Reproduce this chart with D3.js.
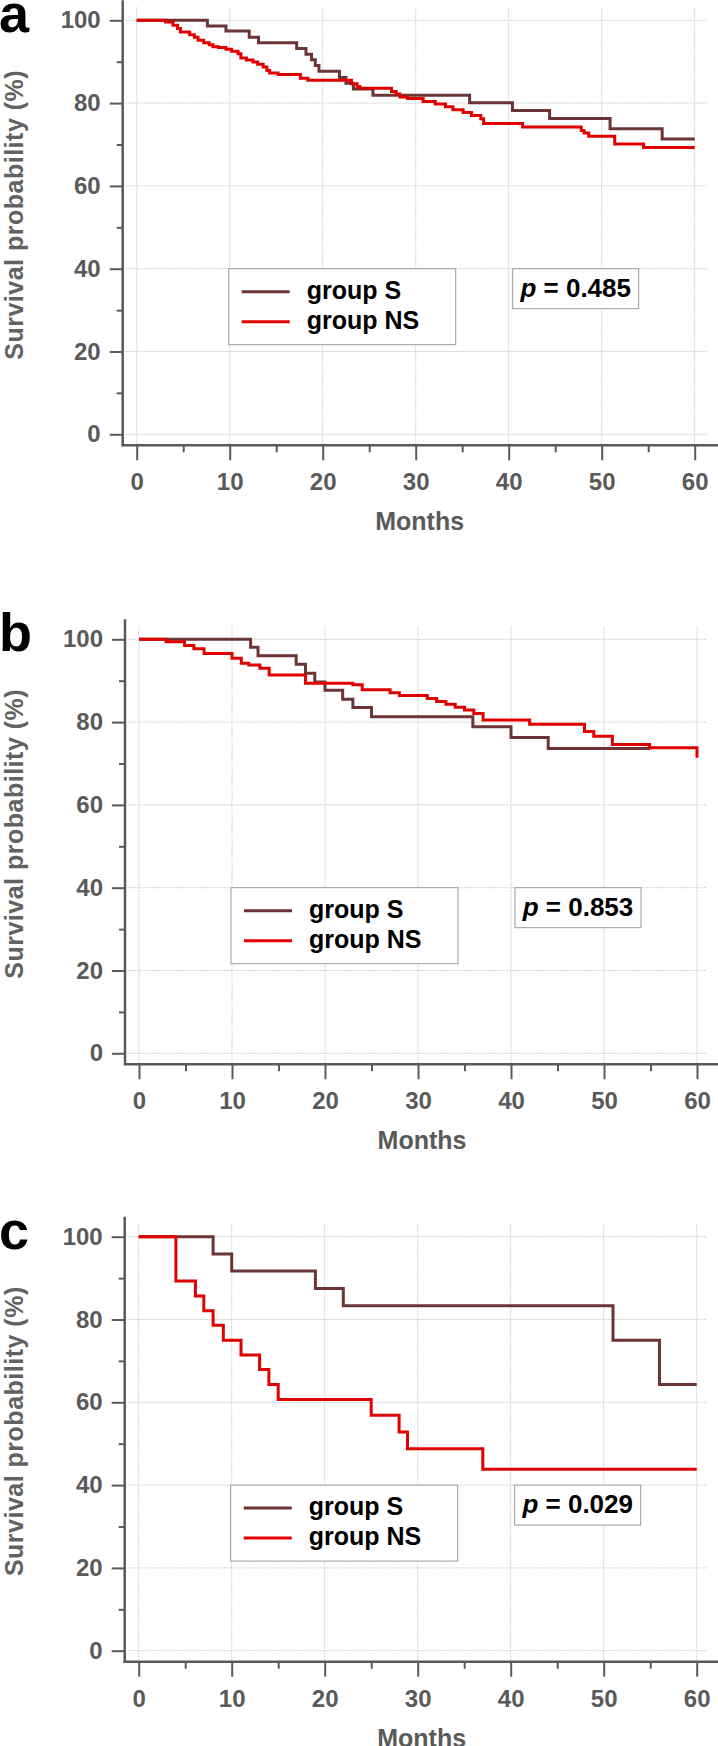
<!DOCTYPE html>
<html lang="en">
<head>
<meta charset="UTF-8">
<title>Survival curves</title>
<script src="https://d3js.org/d3.v7.min.js"></script>
<style>
  body { margin: 0; background: #fff; }
  svg { display: block; }
  text { font-family: "Liberation Sans", Arial, sans-serif; font-weight: bold; }
</style>
</head>
<body>
<script>
// axis values
const months = [0, 10, 20, 30, 40, 50, 60];
const monthsMinor = [5, 15, 25, 35, 45, 55];
const percent = [0, 20, 40, 60, 80, 100];
const percentMinor = [10, 30, 50, 70, 90];

const groupNames = ["group S", "group NS"];
const panelLetters = ["a", "b", "c"];
const pValues = ["0.485", "0.853", "0.029"];

// [month, survival %] at each step (value holds from that month on)
const aS = [[0,100],[7.6,98.6],[9.6,97.4],[12.1,95.9],[13.1,94.6],[17.2,93.2],[18.2,91.8],[18.8,90.5],[19.2,89.1],[19.6,87.7],
  [21.8,86.2],[22.5,84.8],[23.3,83.4],[25.4,81.9],[35.8,80.1],[40.4,78.2],[44.4,76.3],[50.9,73.8],[56.5,71.3],[60,71.3]];
const aNS = [[0,100],[3.1,99.6],[3.9,98.8],[4.4,98.0],[4.7,97.2],[5.7,96.5],[6.2,95.9],[6.6,95.2],[7.2,94.6],[7.8,94.1],
  [8.2,93.6],[8.8,93.4],[9.6,93.0],[10.2,92.5],[10.9,91.9],[11.2,90.9],[11.8,90.4],[12.5,89.9],[13.0,89.4],[13.6,88.7],
  [14.0,87.9],[14.3,87.3],[15.2,86.9],[17.6,86.0],[18.4,85.5],[23.1,84.7],[23.7,84.0],[24.0,83.6],[27.4,82.8],[27.9,82.2],
  [28.3,81.5],[29.1,81.1],[30.8,80.4],[32.1,79.8],[33.2,79.1],[34.0,78.4],[35.1,77.7],[36.0,77.0],[37.0,76.2],[37.3,75.1],
  [41.5,74.2],[47.8,73.4],[48.1,72.8],[48.6,72.0],[51.4,70.1],[54.5,69.3],[60,69.3]];

const bS = [[0,100],[12.0,98.1],[12.8,96.0],[16.9,94.0],[17.9,91.8],[18.9,89.7],[20.0,87.7],[21.9,85.5],[23.0,83.5],
  [25.0,81.3],[35.9,78.9],[40.0,76.3],[44.0,73.6],[55.0,73.6]];
const bNS = [[0,100],[2.9,99.4],[4.9,98.5],[5.9,97.7],[7.0,96.6],[10.0,95.4],[11.0,94.2],[11.8,93.8],[13.0,93.0],[14.0,91.4],
  [17.9,89.4],[23.0,89.0],[24.0,87.8],[27.0,87.1],[28.0,86.4],[31.0,85.7],[32.0,85.0],[33.0,84.3],[34.0,83.6],[35.0,82.9],
  [36.0,82.1],[37.0,80.5],[42.0,79.5],[47.9,77.7],[48.9,76.6],[50.9,74.6],[54.9,73.8],[60,73.8],[60,71.4]];

const cS = [[0,100],[8,95.8],[10,91.7],[19,87.5],[22,83.3],[51,75.0],[56,64.3],[60,64.3]];
const cNS = [[0,100],[4,89.3],[6.1,85.7],[7,82.1],[8,78.6],[9.1,75.0],[11,71.4],[13,67.9],[14,64.3],[15,60.7],
  [25,56.9],[28,52.8],[28.9,48.8],[37,43.8],[60,43.8]];

const seriesByPanel = [[aS, aNS], [bS, bNS], [cS, cNS]];

const colorS = "#6b3535";
const colorNS = "#e00000";
const axisColor = "#5a5a5a";

const W = 718, H = 1746;
const plotW = 558, plotH = 414;
// top of the 100% line and x of month 0 for each panel
const panelTop = [20.3, 639.3, 1236.7];
const panelLeft = [136.7, 139, 138.7];

const svg = d3.select("body").append("svg")
  .attr("width", W)
  .attr("height", H);

panelLetters.forEach(function (letter, i) {
  const top = panelTop[i], left = panelLeft[i];
  const x = d3.scaleLinear().domain([0, 60]).range([left, left + plotW]);
  const y = d3.scaleLinear().domain([0, 100]).range([top + plotH, top]);
  const axisX = left - 14;
  const axisY = top + plotH + 11;
  const g = svg.append("g");

  // grid
  g.selectAll(".hgrid").data(percent).enter().append("line")
    .attr("x1", axisX).attr("x2", 707)
    .attr("y1", d => y(d)).attr("y2", d => y(d))
    .attr("stroke", "#d2d2d2").attr("stroke-dasharray", "2,1");
  g.selectAll(".vgrid").data(months).enter().append("line")
    .attr("x1", d => x(d)).attr("x2", d => x(d))
    .attr("y1", top - 13).attr("y2", axisY)
    .attr("stroke", "#d2d2d2").attr("stroke-dasharray", "2,1");

  // y axis
  const yAxis = g.append("g").attr("transform", `translate(${axisX},0)`)
    .call(d3.axisLeft(y).tickValues(percent).tickSize(13).tickPadding(9));
  const yMinor = g.append("g").attr("transform", `translate(${axisX},0)`)
    .call(d3.axisLeft(y).tickValues(percentMinor).tickSize(6).tickFormat(""));
  // x axis
  const xAxis = g.append("g").attr("transform", `translate(0,${axisY})`)
    .call(d3.axisBottom(x).tickValues(months).tickSize(15).tickPadding(13));
  const xMinor = g.append("g").attr("transform", `translate(0,${axisY})`)
    .call(d3.axisBottom(x).tickValues(monthsMinor).tickSize(7).tickFormat(""));

  [yAxis, yMinor, xAxis, xMinor].forEach(function (a) {
    a.select(".domain").remove();
    a.selectAll(".tick line").attr("stroke", axisColor).attr("stroke-width", 2);
    a.selectAll(".tick text").attr("fill", axisColor).style("font-size", "24px");
  });

  g.append("line")
    .attr("x1", axisX).attr("x2", axisX)
    .attr("y1", top - 20).attr("y2", axisY + 1)
    .attr("stroke", axisColor).attr("stroke-width", 2.5);
  g.append("line")
    .attr("x1", axisX - 1).attr("x2", W)
    .attr("y1", axisY).attr("y2", axisY)
    .attr("stroke", axisColor).attr("stroke-width", 2.5);

  // axis titles
  g.append("text")
    .attr("transform", `translate(23,${top + 194.5}) rotate(-90)`)
    .attr("text-anchor", "middle")
    .attr("fill", "#626262")
    .style("font-size", "25px")
    .style("letter-spacing", "0.5px")
    .text("Survival probability (%)");
  g.append("text")
    .attr("x", x(30) + 4).attr("y", axisY + 85)
    .attr("text-anchor", "middle")
    .attr("fill", axisColor)
    .style("font-size", "25px")
    .text("Months");

  // panel letter
  g.append("text")
    .attr("x", -1).attr("y", top + 12)
    .attr("fill", "#000")
    .style("font-size", "54px")
    .text(letter);

  // curves
  const line = d3.line()
    .x(d => x(d[0]))
    .y(d => y(d[1]))
    .curve(d3.curveStepAfter);
  const colors = [colorS, colorNS];
  seriesByPanel[i].forEach(function (s, k) {
    g.append("path")
      .attr("d", line(s))
      .attr("fill", "none")
      .attr("stroke", colors[k])
      .attr("stroke-width", 3);
  });

  // legend
  const lx = x(10) - 1, ly = y(40);
  const leg = g.append("g").attr("transform", `translate(${lx},${ly})`);
  leg.append("rect")
    .attr("width", 227).attr("height", 76)
    .attr("fill", "#fff").attr("stroke", "#9a9a9a");
  groupNames.forEach(function (name, k) {
    leg.append("line")
      .attr("x1", 13).attr("x2", 61)
      .attr("y1", 23 + k * 30).attr("y2", 23 + k * 30)
      .attr("stroke", colors[k]).attr("stroke-width", 3);
    leg.append("text")
      .attr("x", 78).attr("y", 30 + k * 30)
      .attr("fill", "#000")
      .style("font-size", "25px")
      .text(name);
  });

  // p value box
  const px = x(40) + 4;
  const pb = g.append("g").attr("transform", `translate(${px},${ly})`);
  pb.append("rect")
    .attr("width", 126).attr("height", 40)
    .attr("fill", "#fff").attr("stroke", "#9a9a9a");
  const pt = pb.append("text")
    .attr("x", 63).attr("y", 28)
    .attr("text-anchor", "middle")
    .attr("fill", "#000")
    .style("font-size", "26px");
  pt.append("tspan").style("font-style", "italic").text("p");
  pt.append("tspan").text(" = " + pValues[i]);
});
</script>
</body>
</html>
